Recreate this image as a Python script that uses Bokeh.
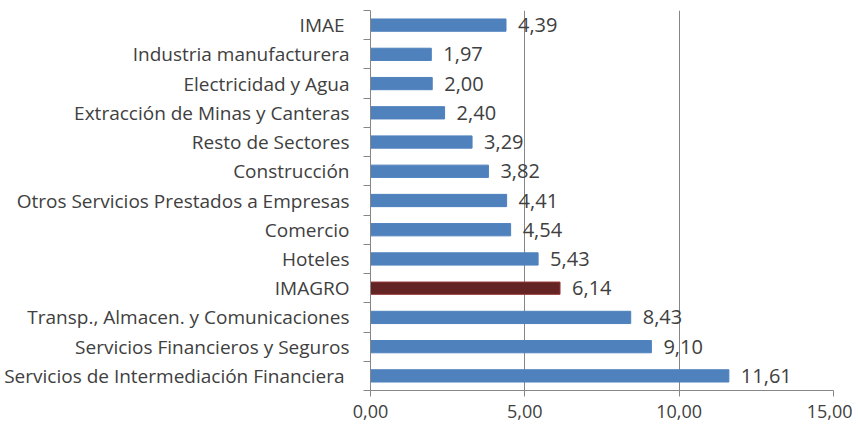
from bokeh.plotting import figure
from bokeh.models import ColumnDataSource, FixedTicker, LinearAxis, Range1d
from bokeh.embed import file_html
from bokeh.resources import INLINE
from bokeh.core.properties import value

categories = [
    "Servicios de Intermediación Financiera ",
    "Servicios Financieros y Seguros",
    "Transp., Almacen. y Comunicaciones",
    "IMAGRO",
    "Hoteles",
    "Comercio",
    "Otros Servicios Prestados a Empresas",
    "Construcción",
    "Resto de Sectores",
    "Extracción de Minas y Canteras",
    "Electricidad y Agua",
    "Industria manufacturera",
    "IMAE ",
]
values = [11.61, 9.10, 8.43, 6.14, 5.43, 4.54, 4.41, 3.82, 3.29, 2.40, 2.00, 1.97, 4.39]
x_ticks = [0, 5, 10, 15]
x_tick_labels = ["0,00", "5,00", "10,00", "15,00"]

FONT = "Open Sans"
TXT = "#404040"

n = len(categories)
ypos = list(range(n))
fills = ["#632423" if c == "IMAGRO" else "#4F81BD" for c in categories]
lines = ["#943634" if c == "IMAGRO" else "#4F81BD" for c in categories]
labels = [f"{v:.2f}".replace(".", ",") for v in values]

src = ColumnDataSource(dict(y=ypos, v=values, fill=fills, line=lines, lab=labels))

p = figure(frame_width=463, frame_height=380, output_backend="svg", toolbar_location=None,
           x_range=Range1d(0, 15), y_range=Range1d(-0.5, n - 0.5),
           min_border_top=10, min_border_right=19, min_border_bottom=37, min_border_left=370)
p.outline_line_color = None
p.background_fill_color = "white"

p.hbar(y="y", right="v", left=0, height=0.42, source=src,
       fill_color="fill", line_color="line", line_width=1)
p.text(x="v", y="y", text="lab", source=src, x_offset=12,
       text_baseline="middle", text_align="left",
       text_font=value(FONT), text_font_size="20px", text_color=TXT)

# x axis
p.xaxis.ticker = FixedTicker(ticks=x_ticks)
p.xaxis.major_label_overrides = {t: l for t, l in zip(x_ticks, x_tick_labels)}
p.xaxis.major_label_text_font = FONT
p.xaxis.major_label_text_font_size = "18px"
p.xaxis.major_label_text_color = TXT
p.xaxis.axis_line_color = "#868686"
p.xaxis.major_tick_line_color = "#868686"
p.xaxis.major_tick_out = 6
p.xaxis.major_tick_in = 0
p.xaxis.minor_tick_line_color = None
p.xaxis.major_label_standoff = 8

p.xgrid.ticker = FixedTicker(ticks=x_ticks)
p.xgrid.grid_line_color = "#868686"
p.ygrid.grid_line_color = None

# y axis: tick marks at category boundaries (inner axis)
bounds = [i - 0.5 for i in range(n + 1)]
p.yaxis.ticker = FixedTicker(ticks=bounds)
p.yaxis.major_label_overrides = {b: "" for b in bounds}
p.yaxis.major_label_text_font_size = "1px"
p.yaxis.major_label_standoff = 0
p.yaxis.axis_line_color = "#868686"
p.yaxis.major_tick_line_color = "#868686"
p.yaxis.major_tick_out = 7
p.yaxis.major_tick_in = 0
p.yaxis.minor_tick_line_color = None

# y axis labels (outer axis)
lab_axis = LinearAxis(ticker=FixedTicker(ticks=ypos),
                      major_label_overrides={i: c for i, c in zip(ypos, categories)},
                      axis_line_color=None, major_tick_line_color=None,
                      minor_tick_line_color=None,
                      major_label_text_font=FONT, major_label_text_font_size="19px",
                      major_label_text_color=TXT, major_label_standoff=8)
p.add_layout(lab_axis, "left")

open("out.html", "w").write(file_html(p, INLINE))
